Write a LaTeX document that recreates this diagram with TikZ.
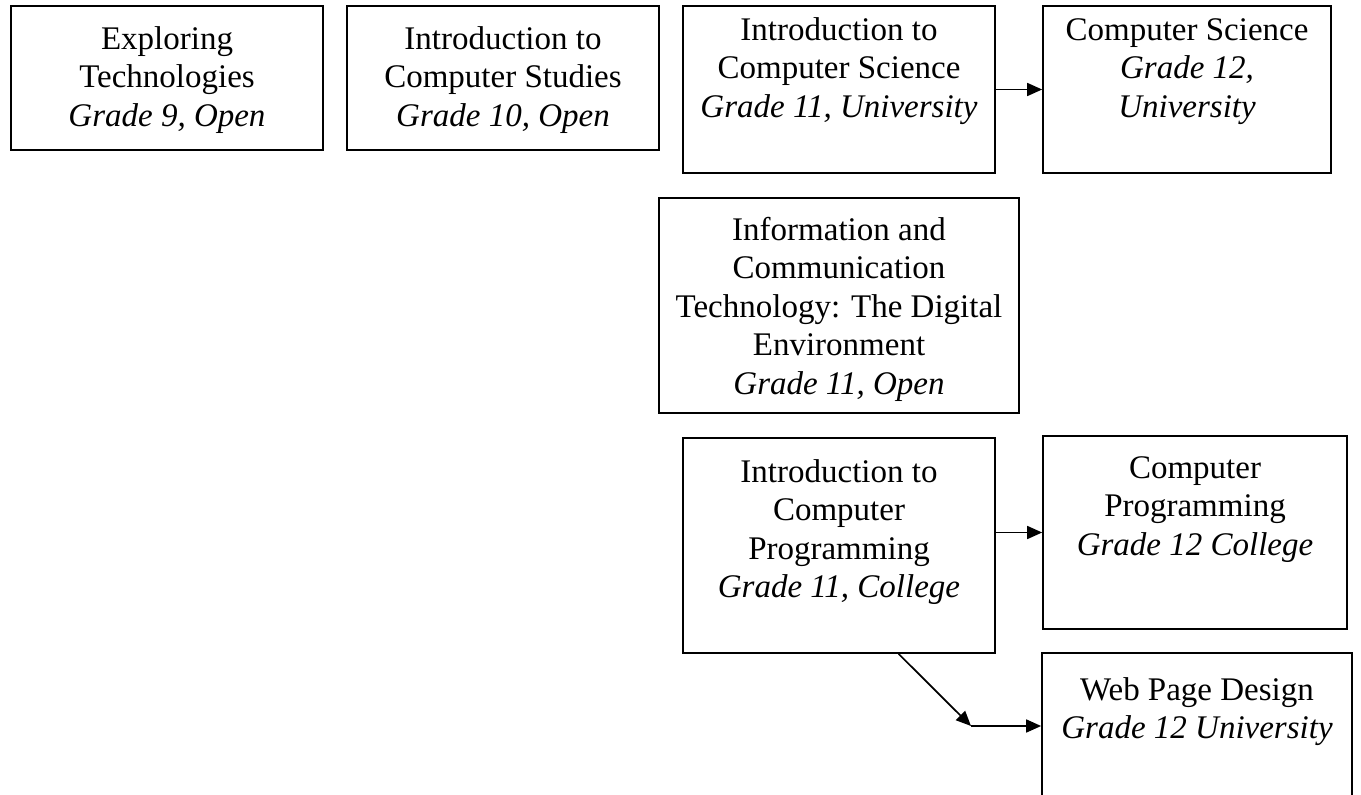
\documentclass[tikz,border=0pt]{standalone}
\usepackage{fontspec}
\setmainfont{Liberation Serif}
\usetikzlibrary{arrows.meta,calc}
\tikzset{
  box/.style={draw=black, line width=1.7pt, rectangle, inner sep=0pt, fill=none},
  txt/.style={anchor=north, inner sep=0pt, align=center, font=\fontsize{33}{38.5}\selectfont},
  arr/.style={line width=1.7pt, -{Triangle[length=15pt,width=13pt]}}
}
\begin{document}
\begin{tikzpicture}[x=1pt,y=-1pt]
\clip (0,0) rectangle (1361,795);
\fill[white] (0,0) rectangle (1361,795);
% boxes
\node[box, minimum width=312pt, minimum height=144pt] (b1) at (167,78) {};
\node[box, minimum width=312pt, minimum height=144pt] (b2) at (503,78) {};
\node[box, minimum width=312pt, minimum height=167pt] (b3) at (839,89.5) {};
\node[box, minimum width=288pt, minimum height=167pt] (b4) at (1187,89.5) {};
\node[box, minimum width=360pt, minimum height=215pt] (b5) at (839,305.5) {};
\node[box, minimum width=312pt, minimum height=215pt] (b6) at (839,545.5) {};
\node[box, minimum width=304pt, minimum height=193pt] (b7) at (1195,532.5) {};
\node[box, minimum width=310pt, minimum height=200pt] (b8) at (1197,753) {};
% texts (first baseline = north + 26.95)
\node[txt] (t1) at (167,22) {\strut Exploring\\Technologies\\\itshape Grade 9, Open};
\node[txt] (t2) at (503,22) {\strut Introduction to\\Computer Studies\\\itshape Grade 10, Open};
\node[txt] (t3) at (839,13) {\strut Introduction to\\Computer Science\\\itshape Grade 11, University};
\node[txt] (t4) at (1187,13) {\strut Computer Science\\\itshape Grade 12,\\\itshape University};
\node[txt] (t5) at (839,213) {\strut Information and\\Communication\\Technology: The Digital\\Environment\\\itshape Grade 11, Open};
\node[txt] (t6) at (839,455) {\strut Introduction to\\Computer\\Programming\\\itshape Grade 11, College};
\node[txt] (t7) at (1195,451) {\strut Computer\\Programming\\\itshape Grade 12 College};
\node[txt] (t8) at (1197,673) {\strut Web Page Design\\\itshape Grade 12 University};
% connectors
\coordinate (k) at (971,726);
\draw[arr] (b3.east) -- (b4.west);
\draw[arr] (b6.east |- b7.west) -- (b7.west);
\draw[arr] ($(b6.south west)!0.69!(b6.south east)$) -- (k);
\draw[arr] (k) -- (k -| b8.west);
\end{tikzpicture}
\end{document}
